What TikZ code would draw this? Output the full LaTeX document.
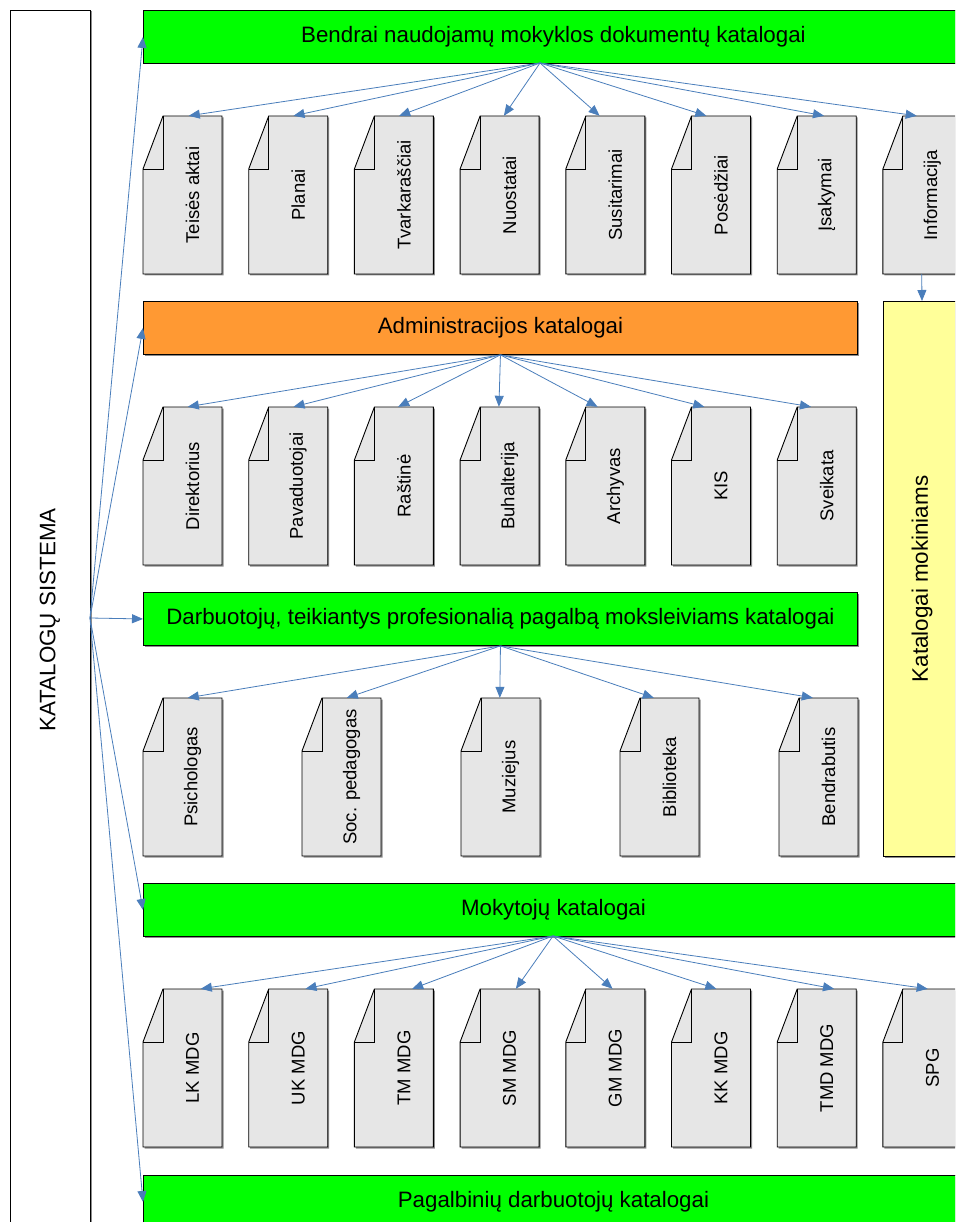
\documentclass[tikz,border=0pt]{standalone}
\usepackage{fontspec}
\setmainfont{Liberation Sans}
\usetikzlibrary{arrows.meta,calc}
\definecolor{arr}{HTML}{4A7EBB}
\definecolor{docfill}{HTML}{E6E6E6}
\definecolor{grn}{HTML}{00FF00}
\definecolor{org}{HTML}{FF9933}
\definecolor{ylw}{HTML}{FFFF99}
\definecolor{shad}{HTML}{8C8C8C}
\tikzset{
  hdr/.style={draw=black, line width=0.9pt, minimum height=53pt, anchor=north west, inner sep=0pt, font=\fontsize{22.3}{26}\selectfont},
  docbody/.style={minimum width=79pt, minimum height=158pt, inner sep=0pt, draw=none},
  doctext/.style={rotate=90, inner sep=0pt, font=\fontsize{18.5}{22}\selectfont},
  docline/.style={draw=black, line width=0.9pt, fill=docfill},
  link/.style={draw=arr, line width=0.8pt, -{Triangle[length=11pt,width=9pt]}, shorten >=0pt},
}
\newcommand\docitem[4]{%
  \node[docbody] (#1) at (#2+39.5,#3+79) {};
  \fill[shad] (#2+1.5,#3+53+1.5) -- (#2+20+1.5,#3+1.5) -- (#2+79+1.5,#3+1.5) -- (#2+79+1.5,#3+158+1.5) -- (#2+1.5,#3+158+1.5) -- cycle;
  \path[docline] (#2,#3+53) -- (#2+20,#3) -- (#2+79,#3) -- (#2+79,#3+158) -- (#2,#3+158) -- cycle;
  \draw[line width=0.9pt] (#2+20,#3) -- (#2+20,#3+53) -- (#2,#3+53);
  \node[doctext] (#1t) at (#2+49.5,#3+79) {#4};
}
\begin{document}
\begin{tikzpicture}[x=1pt,y=-1pt]
\useasboundingbox (0,0) rectangle (955,1222);
\clip (0,0) rectangle (955,1222);
\fill[white] (0,0) rectangle (955,1222);

% left system box
\fill[shad] (11.5,11.5) rectangle (91.5,1240);
\node[draw=black, fill=white, line width=0.9pt, minimum width=80pt, minimum height=1230pt, inner sep=0pt, anchor=north west] (sys) at (10,10) {};
\node[rotate=90, font=\fontsize{22.4}{26}\selectfont] (systxt) at (50,620) {KATALOGŲ SISTEMA};
\coordinate (src) at (90,618);

% header boxes (shadows first)
\fill[shad] (144.5,11.5) rectangle (970,64.5);
\fill[shad] (144.5,302.5) rectangle (858.5,355.5);
\fill[shad] (144.5,593.5) rectangle (858.5,646.5);
\fill[shad] (144.5,884.5) rectangle (970,937.5);
\fill[shad] (144.5,1176.5) rectangle (970,1230);
\fill[shad] (884.5,302.5) rectangle (970,857.5);

\node[hdr, fill=grn, minimum width=820pt] (h1) at (143,10) {Bendrai naudojamų mokyklos dokumentų katalogai};
\node[hdr, fill=org, minimum width=714pt] (h2) at (143,301) {Administracijos katalogai};
\node[hdr, fill=grn, minimum width=714pt] (h3) at (143,592) {Darbuotojų, teikiantys profesionalią pagalbą moksleiviams katalogai};
\node[hdr, fill=grn, minimum width=820pt] (h4) at (143,883) {Mokytojų katalogai};
\node[hdr, fill=grn, minimum width=820pt] (h5) at (143,1175) {Pagalbinių darbuotojų katalogai};

% yellow pupils box
\node[draw=black, line width=0.9pt, fill=ylw, minimum width=100pt, minimum height=555pt, inner sep=0pt, anchor=north west] (ym) at (883,301) {};
\node[rotate=90, font=\fontsize{22.4}{26}\selectfont] (ymt) at (922,579) {Katalogai mokiniams};

% row 1 documents
\foreach \lbl [count=\i from 0] in {Teisės aktai,Planai,Tvarkaraščiai,Nuostatai,Susitarimai,Posėdžiai,Įsakymai,Informacija}{
  \docitem{a\i}{143+105.7*\i}{116}{\lbl}
}
% row 2 documents
\foreach \lbl [count=\i from 0] in {Direktorius,Pavaduotojai,Raštinė,Buhalterija,Archyvas,KIS,Sveikata}{
  \docitem{b\i}{143+105.7*\i}{407}{\lbl}
}
% row 3 documents
\foreach \lbl [count=\i from 0] in {Psichologas,Soc. pedagogas,Muziejus,Biblioteka,Bendrabutis}{
  \docitem{c\i}{143+159*\i}{698}{\lbl}
}
% row 4 documents
\foreach \lbl [count=\i from 0] in {LK MDG,UK MDG,TM MDG,SM MDG,GM MDG,KK MDG,TMD MDG,SPG}{
  \docitem{d\i}{143+105.7*\i}{989}{\lbl}
}

% connectors from system box
\draw[link] (src) -- (h1.west);
\draw[link] (src) -- (h2.west);
\draw[link] (src) -- (h3.west);
\draw[link] (src) -- (h4.west);
\draw[link] (src) -- (h5.west);

% fan-out sources
\coordinate (s1) at (540,63);
\coordinate (s2) at (h2.south);
\coordinate (s3) at (h3.south);
\coordinate (s4) at (553,936);

\foreach \off [count=\i from 0] in {46,45,45,44,34,35,47,34}{
  \draw[link] (s1) -- ($(a\i.north west)+(\off,0)$);
}
\foreach \off [count=\i from 0] in {45,45,44,39,32,33,34}{
  \draw[link] (s2) -- ($(b\i.north west)+(\off,0)$);
}
\foreach \off [count=\i from 0] in {45,45,39,34,34}{
  \draw[link] (s3) -- ($(c\i.north west)+(\off,0)$);
}
\foreach \off [count=\i from 0] in {58,57,58,56,47,45,57,45}{
  \draw[link] (s4) -- ($(d\i.north west)+(\off,0)$);
}
\draw[link] ($(a7.south west)+(39,0)$) -- ($(ym.north west)+(39,0)$);
\end{tikzpicture}
\end{document}
